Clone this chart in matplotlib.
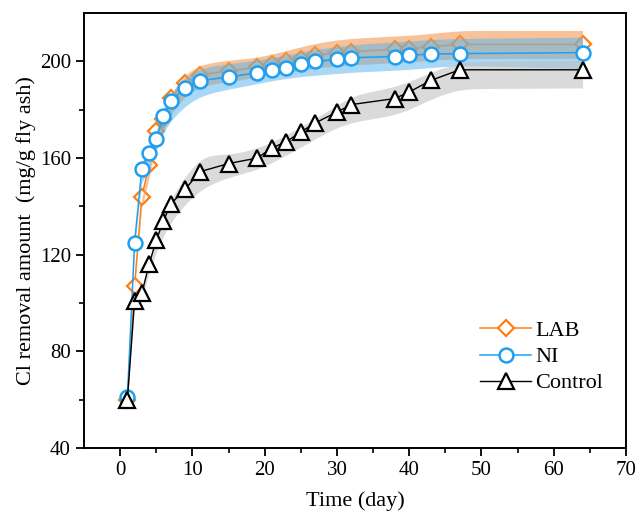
import numpy as np
import matplotlib
matplotlib.use("Agg")
import matplotlib.pyplot as plt

# ---- data ----
days = [1, 2, 3, 4, 5, 6, 7, 9, 11, 15, 19, 21, 23, 25, 27, 30, 32, 38, 40, 43, 47, 64]

lab = [60, 107, 144, 157, 171, 176, 185, 191, 194.5, 196, 197.5, 199, 200, 201,
       202.5, 203.5, 204, 205, 205.2, 206, 207, 207]
lab_lo = [59.5, 106, 142, 154.5, 168, 172, 180.5, 186.5, 190, 191.5, 193.5, 195, 195.5, 196,
          197.5, 198, 198.5, 199.5, 199.7, 200.5, 201.2, 201.2]
lab_hi = [60.5, 108, 146, 159.5, 174, 180, 189.5, 195.5, 199, 200.5, 201.5, 203, 204.5, 206,
          207.5, 209, 209.5, 210.5, 210.7, 211.5, 212.8, 212.8]

ni = [61, 125, 155.5, 162, 168, 177.5, 183.5, 189, 192, 193.5, 195.3, 196.6, 197.4, 199,
      200, 200.8, 201.5, 202, 202.5, 203, 203.2, 203.6]
ni_lo = [60.5, 123.5, 153, 159, 164, 172, 177, 182, 186, 188.5, 190.8, 192, 193, 193.8,
         194.2, 195, 195.5, 196.3, 196.6, 197.5, 198.3, 197]
ni_hi = [61.5, 126.5, 158, 165, 172, 183, 189, 194, 197.5, 199, 200.5, 201.5, 202.5, 204,
         205, 206, 207, 208, 208.5, 209, 209.5, 210]

ctrl = [60, 101, 104, 116, 126, 134, 141, 147, 154.3, 157.7, 160, 164.2, 166.7, 170.8,
        174.5, 179, 182.1, 184.6, 187.3, 192.1, 196.5, 196.5]
ctrl_lo = [59.5, 100, 102, 113, 122, 129, 135, 141, 147.4, 152.2, 155, 158, 161.2, 164.5,
           168, 172.9, 174.9, 177.7, 179.8, 184.6, 188.7, 189]
ctrl_hi = [60.5, 102, 106, 118, 129, 137, 145, 152, 161.9, 161.2, 163.9, 166.5, 169.4, 173,
           176.3, 181.8, 186, 189.4, 191.5, 195.6, 199.7, 200.5]

x_ticks = [0, 10, 20, 30, 40, 50, 60, 70]
y_ticks = [40, 80, 120, 160, 200]

# ---- helpers ----
def smooth_band(x, lo, hi, sigma=1.6):
    xx = np.linspace(min(x), max(x), 600)
    lo_i = np.interp(xx, x, lo)
    hi_i = np.interp(xx, x, hi)
    dx = xx[1] - xx[0]
    n = int(4 * sigma / dx)
    k = np.exp(-0.5 * (np.arange(-n, n + 1) * dx / sigma) ** 2)
    k /= k.sum()
    def sm(a):
        p = np.concatenate([np.full(n, a[0]), a, np.full(n, a[-1])])
        return np.convolve(p, k, mode="valid")
    w = np.clip((xx - 2) / 6, 0, 1)
    lo_s = w * sm(lo_i) + (1 - w) * lo_i
    hi_s = w * sm(hi_i) + (1 - w) * hi_i
    return xx, lo_s, hi_s

plt.rcParams['font.family'] = ['Liberation Serif', 'DejaVu Serif']
plt.rcParams['mathtext.fontset'] = 'stix'

fig = plt.figure(figsize=(6.38, 5.18), dpi=100)
ax = fig.add_axes([0.1317, 0.1351, 0.8493, 0.8398])

c_lab = '#FF7F0E'
c_ni = '#1E9FF2'

ax.plot(days, lab, color=c_lab, lw=1.1, marker='D', ms=7.8, mfc='white',
        mec=c_lab, mew=1.6, zorder=2, label='LAB')
xx, lo, hi = smooth_band(days, lab_lo, lab_hi)
ax.fill_between(xx, lo, hi, color='#F29A55', alpha=0.6, lw=0, zorder=3)
xx, lo, hi = smooth_band(days, ni_lo, ni_hi)
ax.fill_between(xx, lo, hi, color='#55B3EE', alpha=0.5, lw=0, zorder=3.1)
ax.plot(days, ni, color=c_ni, lw=1.1, marker='o', ms=10, mfc='white',
        mec=c_ni, mew=1.8, zorder=4, label='NI')
xx, lo, hi = smooth_band(days, ctrl_lo, ctrl_hi)
ax.fill_between(xx, lo, hi, color='#BDBDBD', alpha=0.55, lw=0, zorder=5)
ax.plot(days, ctrl, color='black', lw=1.0, marker='^', ms=12, mfc='white',
        mec='black', mew=1.6, zorder=6, label='Control')

ax.set_xlim(-5, 70)
ax.set_ylim(40, 220)
ax.set_xticks(x_ticks)
ax.set_yticks(y_ticks)
ax.set_xticks(np.arange(5, 70, 10), minor=True)
ax.set_yticks(np.arange(60, 220, 40), minor=True)
ax.tick_params(which='major', direction='out', length=6, width=1.3, labelsize=15)
ax.tick_params(which='minor', direction='out', length=3.5, width=1.2)
ax.tick_params(top=False, right=False)
for s in ax.spines.values():
    s.set_linewidth(1.4)

ax.set_xlabel('Time (day)', fontsize=16, labelpad=8)
ax.set_ylabel('Cl removal amount  (mg/g fly ash)', fontsize=16, labelpad=3)

leg = ax.legend(loc='lower right', bbox_to_anchor=(0.975, 0.105), frameon=False,
                fontsize=16, handlelength=2.3, handletextpad=0.2,
                labelspacing=0.25, borderaxespad=0)

fig.savefig('out.png', dpi=100)
